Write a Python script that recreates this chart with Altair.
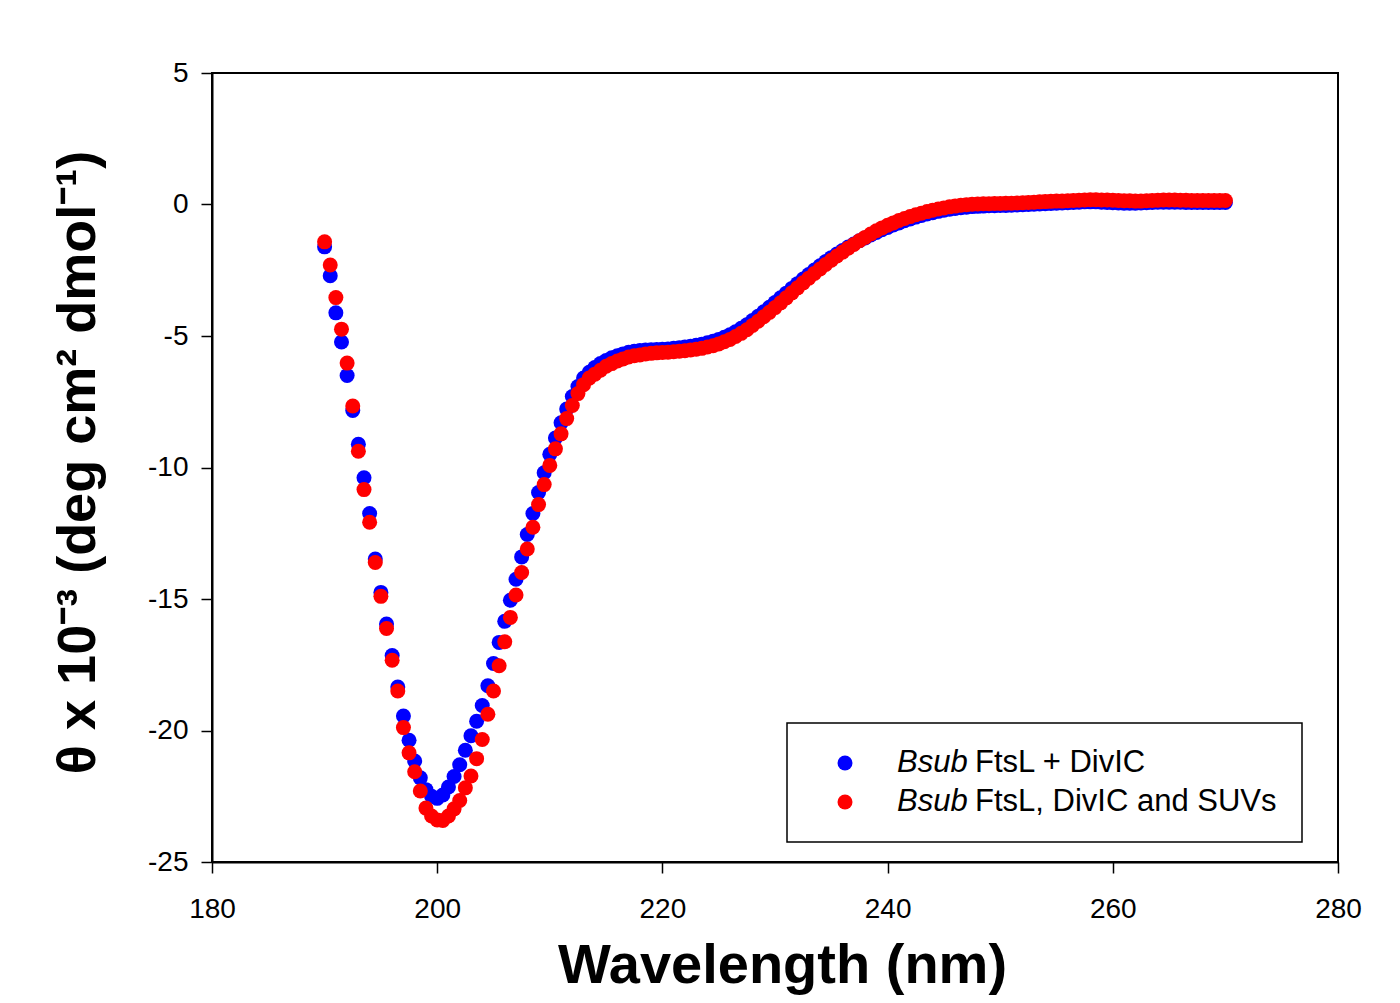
import altair as alt
import pandas as pd

# ---- data ----
wavelength = [
    190.0, 190.5, 191.0, 191.5, 192.0, 192.5, 193.0, 193.5, 194.0, 194.5,
    195.0, 195.5, 196.0, 196.5, 197.0, 197.5, 198.0, 198.5, 199.0, 199.5,
    200.0, 200.5, 201.0, 201.5, 202.0, 202.5, 203.0, 203.5, 204.0, 204.5,
    205.0, 205.5, 206.0, 206.5, 207.0, 207.5, 208.0, 208.5, 209.0, 209.5,
    210.0, 210.5, 211.0, 211.5, 212.0, 212.5, 213.0, 213.5, 214.0, 214.5,
    215.0, 215.5, 216.0, 216.5, 217.0, 217.5, 218.0, 218.5, 219.0, 219.5,
    220.0, 220.5, 221.0, 221.5, 222.0, 222.5, 223.0, 223.5, 224.0, 224.5,
    225.0, 225.5, 226.0, 226.5, 227.0, 227.5, 228.0, 228.5, 229.0, 229.5,
    230.0, 230.5, 231.0, 231.5, 232.0, 232.5, 233.0, 233.5, 234.0, 234.5,
    235.0, 235.5, 236.0, 236.5, 237.0, 237.5, 238.0, 238.5, 239.0, 239.5,
    240.0, 240.5, 241.0, 241.5, 242.0, 242.5, 243.0, 243.5, 244.0, 244.5,
    245.0, 245.5, 246.0, 246.5, 247.0, 247.5, 248.0, 248.5, 249.0, 249.5,
    250.0, 250.5, 251.0, 251.5, 252.0, 252.5, 253.0, 253.5, 254.0, 254.5,
    255.0, 255.5, 256.0, 256.5, 257.0, 257.5, 258.0, 258.5, 259.0, 259.5,
    260.0, 260.5, 261.0, 261.5, 262.0, 262.5, 263.0, 263.5, 264.0, 264.5,
    265.0, 265.5, 266.0, 266.5, 267.0, 267.5, 268.0, 268.5, 269.0, 269.5,
    270.0,
]

theta_ftsl_divic = [
    -1.61, -2.71, -4.12, -5.23, -6.50, -7.83, -9.12, -10.39, -11.75, -13.48,
    -14.75, -15.95, -17.15, -18.35, -19.45, -20.37, -21.16, -21.80, -22.25, -22.50,
    -22.58, -22.45, -22.15, -21.75, -21.30, -20.75, -20.20, -19.65, -19.05, -18.30,
    -17.45, -16.65, -15.85, -15.05, -14.25, -13.40, -12.55, -11.75, -10.95, -10.20,
    -9.50, -8.88, -8.30, -7.78, -7.30, -6.92, -6.60, -6.38, -6.20, -6.05,
    -5.93, -5.83, -5.75, -5.68, -5.62, -5.58, -5.55, -5.53, -5.52, -5.51,
    -5.50, -5.49, -5.47, -5.45, -5.42, -5.39, -5.35, -5.31, -5.26, -5.20,
    -5.13, -5.05, -4.95, -4.84, -4.71, -4.57, -4.41, -4.25, -4.08, -3.91,
    -3.73, -3.55, -3.37, -3.19, -3.01, -2.83, -2.66, -2.49, -2.33, -2.17,
    -2.02, -1.88, -1.75, -1.62, -1.50, -1.38, -1.27, -1.16, -1.06, -0.96,
    -0.87, -0.78, -0.70, -0.62, -0.55, -0.48, -0.42, -0.36, -0.31, -0.26,
    -0.22, -0.18, -0.15, -0.12, -0.10, -0.08, -0.07, -0.06, -0.05, -0.05,
    -0.04, -0.04, -0.03, -0.02, -0.01, 0.00, 0.01, 0.02, 0.03, 0.04,
    0.05, 0.06, 0.07, 0.08, 0.09, 0.10, 0.10, 0.10, 0.09, 0.08,
    0.07, 0.06, 0.05, 0.05, 0.05, 0.06, 0.07, 0.08, 0.09, 0.09,
    0.09, 0.09, 0.09, 0.08, 0.08, 0.08, 0.08, 0.08, 0.08, 0.08,
    0.08,
]

theta_ftsl_divic_suv = [
    -1.42, -2.30, -3.54, -4.74, -6.03, -7.66, -9.38, -10.84, -12.08, -13.61,
    -14.90, -16.12, -17.33, -18.50, -19.89, -20.85, -21.57, -22.30, -22.95, -23.25,
    -23.40, -23.42, -23.25, -22.98, -22.66, -22.18, -21.73, -21.07, -20.34, -19.38,
    -18.50, -17.54, -16.63, -15.70, -14.85, -13.99, -13.10, -12.27, -11.41, -10.65,
    -9.92, -9.29, -8.72, -8.14, -7.64, -7.19, -6.85, -6.60, -6.45, -6.30,
    -6.15, -6.05, -5.95, -5.87, -5.80, -5.75, -5.72, -5.68, -5.66, -5.64,
    -5.63, -5.62, -5.60, -5.58, -5.56, -5.53, -5.50, -5.47, -5.42, -5.37,
    -5.30, -5.22, -5.13, -5.02, -4.90, -4.76, -4.60, -4.44, -4.27, -4.10,
    -3.92, -3.74, -3.55, -3.36, -3.17, -2.98, -2.80, -2.62, -2.45, -2.28,
    -2.12, -1.96, -1.81, -1.66, -1.52, -1.38, -1.25, -1.12, -1.00, -0.89,
    -0.79, -0.70, -0.61, -0.53, -0.46, -0.39, -0.33, -0.27, -0.22, -0.17,
    -0.13, -0.09, -0.06, -0.03, -0.01, 0.01, 0.02, 0.03, 0.03, 0.04,
    0.04, 0.05, 0.05, 0.06, 0.07, 0.08, 0.09, 0.10, 0.11, 0.12,
    0.13, 0.13, 0.14, 0.15, 0.16, 0.17, 0.18, 0.18, 0.17, 0.17,
    0.16, 0.15, 0.14, 0.14, 0.13, 0.13, 0.14, 0.15, 0.16, 0.17,
    0.17, 0.17, 0.16, 0.16, 0.15, 0.15, 0.15, 0.15, 0.15, 0.15,
    0.15,
]

series_names = ["Bsub FtsL + DivIC", "Bsub FtsL, DivIC and SUVs"]
legend_prefix = ["Bsub", "Bsub"]
legend_rest = ["FtsL + DivIC", "FtsL, DivIC and SUVs"]
series_colors = ["#0000FF", "#FF0000"]

x_ticks = [180, 200, 220, 240, 260, 280]
y_ticks = [-25, -20, -15, -10, -5, 0, 5]

x_title = "Wavelength (nm)"
y_title = "\u03b8 x 10\u207b\u00b3 (deg cm\u00b2 dmol\u207b\u00b9)"

FONT = "Liberation Sans"

# ---- tables ----
n = len(wavelength)
df = pd.DataFrame({
    "wavelength": wavelength + wavelength,
    "theta": theta_ftsl_divic + theta_ftsl_divic_suv,
    "series": [series_names[0]] * n + [series_names[1]] * n,
})
legend_df = pd.DataFrame({
    "series": series_names,
    "prefix": legend_prefix,
    "rest": legend_rest,
})
box_df = pd.DataFrame({"k": [0]})

W, H = 1126, 789

color_scale = alt.Scale(domain=series_names, range=series_colors)

points = alt.Chart(df).mark_circle(size=225, opacity=1).encode(
    x=alt.X(
        "wavelength:Q",
        scale=alt.Scale(domain=[180, 280], nice=False, zero=False),
        axis=alt.Axis(
            values=x_ticks, labelExpr="'' + datum.value", title=x_title,
            titleFontSize=56, titleFont=FONT, titleFontWeight="bold",
            titleColor="black", titleX=570, titleY=120,
            titleBaseline="alphabetic", titleAlign="center",
            labelFontSize=28, labelFont=FONT, labelColor="black",
            labelPadding=22, labelFlush=False, labelOverlap=False,
            tickSize=11, tickWidth=1.5, tickColor="black",
            domainColor="black", domainWidth=2, grid=False,
        ),
    ),
    y=alt.Y(
        "theta:Q",
        scale=alt.Scale(domain=[-25, 5], nice=False, zero=False),
        axis=alt.Axis(
            values=y_ticks, labelExpr="'' + datum.value", title=y_title,
            titleFontSize=54, titleFont=FONT, titleFontWeight="bold",
            titleColor="black", titleAngle=270, titleX=-118, titleY=389,
            titleBaseline="alphabetic", titleAlign="center",
            labelFontSize=28, labelFont=FONT, labelColor="black",
            labelPadding=13, labelFlush=False, labelOverlap=False,
            tickSize=11, tickWidth=1.5, tickColor="black",
            domainColor="black", domainWidth=2, grid=False,
        ),
    ),
    color=alt.Color("series:N", scale=color_scale, legend=None),
)

legend_y = alt.Y(
    "series:N",
    scale=alt.Scale(domain=series_names, range=[690, 729], padding=0),
    axis=None,
)

legend_box = alt.Chart(box_df).mark_rect(
    fill="white", stroke="black", strokeWidth=1.5
).encode(
    x=alt.value(575), x2=alt.value(1090),
    y=alt.value(650), y2=alt.value(769),
)

legend_symbols = alt.Chart(legend_df).mark_circle(size=225, opacity=1).encode(
    x=alt.value(633),
    y=legend_y,
    color=alt.Color("series:N", scale=color_scale, legend=None),
)

legend_prefix_text = alt.Chart(legend_df).mark_text(
    align="left", baseline="middle", font=FONT, fontSize=31,
    fontStyle="italic", color="black",
).encode(
    x=alt.value(685),
    y=legend_y,
    text="prefix:N",
)

legend_rest_text = alt.Chart(legend_df).mark_text(
    align="left", baseline="middle", font=FONT, fontSize=31, color="black",
).encode(
    x=alt.value(763),
    y=legend_y,
    text="rest:N",
)

chart = alt.layer(
    points, legend_box, legend_symbols, legend_prefix_text, legend_rest_text
).resolve_scale(
    y="independent"
).properties(
    width=W, height=H,
    autosize=alt.AutoSizeParams(type="none"),
    padding={"left": 204, "top": 65, "right": 50, "bottom": 135},
    background="white",
).configure_view(
    stroke="black", strokeWidth=2
)

chart.save("out.html", embed_options={"renderer": "svg", "actions": False})
